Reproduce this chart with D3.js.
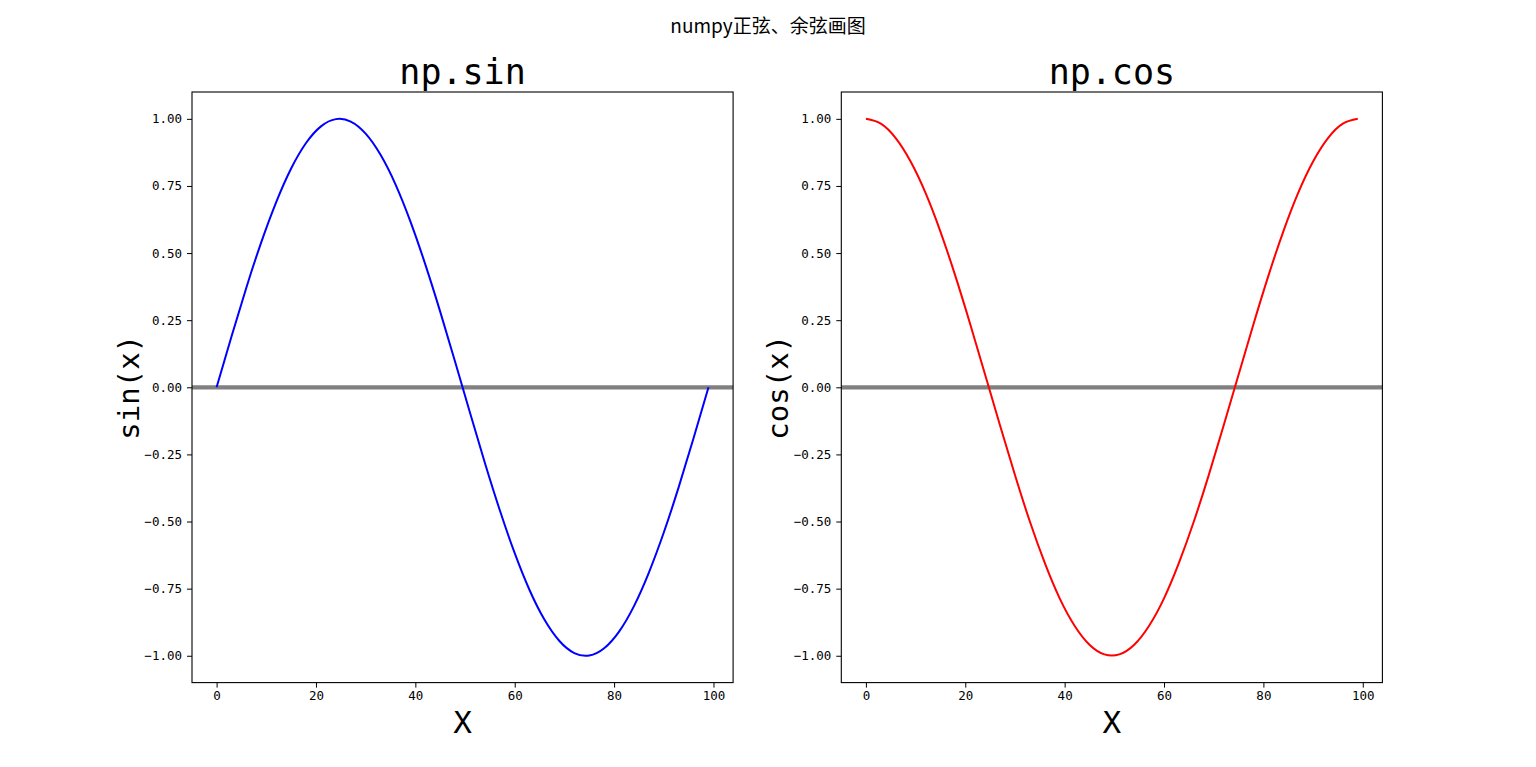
<!DOCTYPE html>
<html>
<head>
<meta charset="utf-8">
<script src="https://cdn.jsdelivr.net/npm/d3@7"></script>
<style>
  html, body { margin: 0; padding: 0; background: #fff; }
  #viz { width: 1536px; height: 767px; }
  .tick text { font-family: "DejaVu Sans Mono", monospace; font-size: 12.5px; fill: #000; }
</style>
</head>
<body>
<div id="viz"></div>
<script>
const xs = [0, 3, 6, 9, 12, 15, 18, 21, 24, 27, 30, 33, 36, 39, 42, 45, 48,
            51, 54, 57, 60, 63, 66, 69, 72, 75, 78, 81, 84, 87, 90, 93, 96, 99];
const sinVals = [0, 0.189, 0.372, 0.541, 0.690, 0.815, 0.910, 0.972, 0.999, 0.990, 0.945, 0.866,
                 0.756, 0.618, 0.458, 0.282, 0.095, -0.095, -0.282, -0.458, -0.618, -0.756,
                 -0.866, -0.945, -0.990, -0.999, -0.972, -0.910, -0.815, -0.690, -0.541,
                 -0.372, -0.189, 0];
const cosVals = [1, 0.982, 0.928, 0.841, 0.724, 0.580, 0.415, 0.235, 0.047, -0.142, -0.327, -0.500,
                 -0.654, -0.786, -0.888, -0.959, -0.995, -0.995, -0.959, -0.888, -0.786, -0.654,
                 -0.500, -0.327, -0.142, 0.047, 0.235, 0.415, 0.580, 0.724, 0.841, 0.928, 0.982, 1];
const xTicks = [0, 20, 40, 60, 80, 100];
const yTicks = [-1, -0.75, -0.5, -0.25, 0, 0.25, 0.5, 0.75, 1];

const width = 1536, height = 767;
const svg = d3.select('#viz').append('svg')
  .attr('width', width)
  .attr('height', height);

svg.append('text')
  .attr('x', width / 2)
  .attr('y', 33)
  .attr('text-anchor', 'middle')
  .style('font-family', '"Noto Sans CJK SC", sans-serif')
  .style('font-size', '19px')
  .text('numpy正弦、余弦画图');

const axTop = 92, axBottom = 682.6, axW = 541.1;
const panels = [
  { left: 192, vals: sinVals, color: 'blue', title: 'np.sin', ylabel: 'sin(x)' },
  { left: 841.3, vals: cosVals, color: 'red', title: 'np.cos', ylabel: 'cos(x)' }
];

const fmt = d => d3.format('.2f')(d).replace('-', '\u2212');

panels.forEach(p => {
  const x = d3.scaleLinear().domain([-4.95, 103.95]).range([p.left, p.left + axW]);
  const y = d3.scaleLinear().domain([-1.1, 1.1]).range([axBottom, axTop]);
  const pts = xs.map((d, i) => ({ x: d, y: p.vals[i] }));

  const g = svg.append('g');

  g.append('g')
    .attr('transform', `translate(0,${axBottom})`)
    .call(d3.axisBottom(x).tickValues(xTicks).tickFormat(d3.format('d')).tickSize(5).tickPadding(4))
    .call(a => a.select('.domain').remove());

  g.append('g')
    .attr('transform', `translate(${p.left},0)`)
    .call(d3.axisLeft(y).tickValues(yTicks).tickFormat(fmt).tickSize(5).tickPadding(5))
    .call(a => a.select('.domain').remove());

  // zero reference line
  g.append('line')
    .attr('x1', p.left).attr('x2', p.left + axW)
    .attr('y1', y(0)).attr('y2', y(0))
    .attr('stroke', 'gray')
    .attr('stroke-width', 4.2);

  const line = d3.line()
    .x(d => x(d.x))
    .y(d => y(d.y))
    .curve(d3.curveNatural);

  g.append('path')
    .datum(pts)
    .attr('fill', 'none')
    .attr('stroke', p.color)
    .attr('stroke-width', 2)
    .attr('d', line);

  g.append('rect')
    .attr('x', p.left).attr('y', axTop)
    .attr('width', axW).attr('height', axBottom - axTop)
    .attr('fill', 'none')
    .attr('stroke', '#000')
    .attr('stroke-width', 1.1);

  g.append('text')
    .attr('x', p.left + axW / 2)
    .attr('y', 84)
    .attr('text-anchor', 'middle')
    .style('font-family', '"DejaVu Sans Mono", monospace')
    .style('font-size', '35px')
    .text(p.title);

  g.append('text')
    .attr('x', p.left + axW / 2)
    .attr('y', 733)
    .attr('text-anchor', 'middle')
    .style('font-family', '"DejaVu Sans Mono", monospace')
    .style('font-size', '31px')
    .text('X');

  g.append('text')
    .attr('transform', `translate(${p.left - 53},${(axTop + axBottom) / 2}) rotate(-90)`)
    .attr('text-anchor', 'middle')
    .style('font-family', '"DejaVu Sans Mono", monospace')
    .style('font-size', '29px')
    .text(p.ylabel);
});
</script>
</body>
</html>
